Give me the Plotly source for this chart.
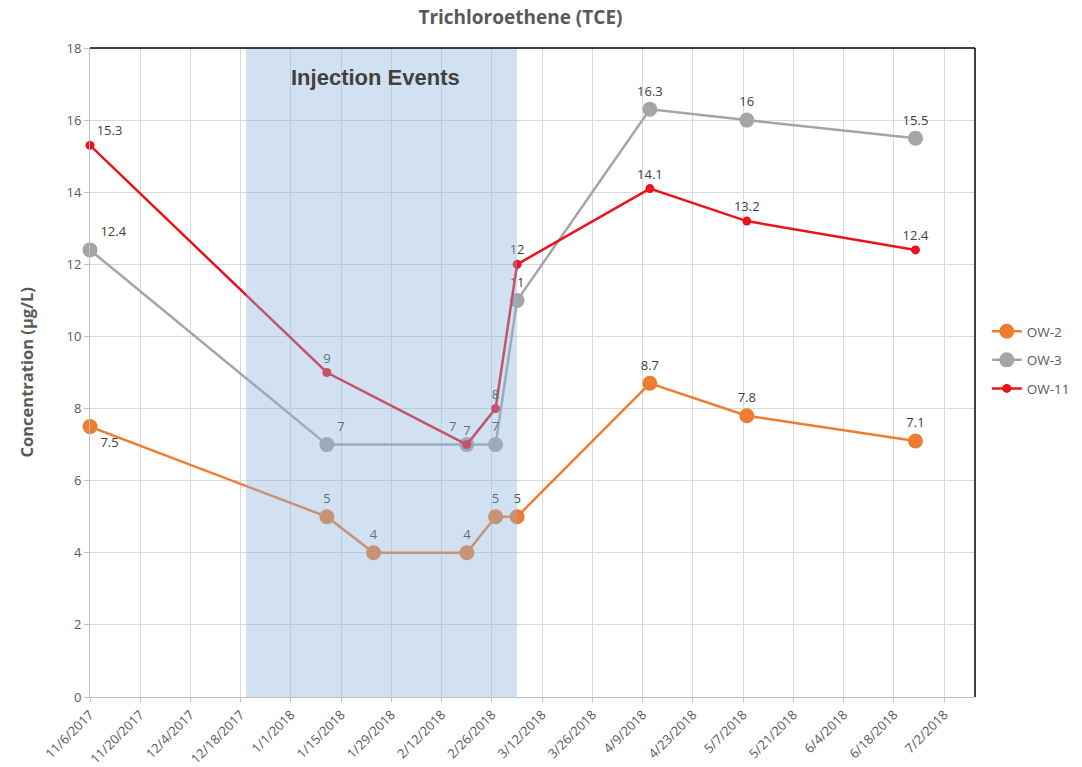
import plotly.graph_objects as go

# Sampling dates and TCE concentrations (µg/L) per monitoring well
dates_ow2 = ["2017-11-06", "2018-01-11", "2018-01-24", "2018-02-19", "2018-02-27",
             "2018-03-05", "2018-04-11", "2018-05-08", "2018-06-24"]
ow2 = [7.5, 5, 4, 4, 5, 5, 8.7, 7.8, 7.1]

dates_ow3 = ["2017-11-06", "2018-01-11", "2018-02-19", "2018-02-27", "2018-03-05",
             "2018-04-11", "2018-05-08", "2018-06-24"]
ow3 = [12.4, 7, 7, 7, 11, 16.3, 16, 15.5]

dates_ow11 = ["2017-11-06", "2018-01-11", "2018-02-19", "2018-02-27", "2018-03-05",
              "2018-04-11", "2018-05-08", "2018-06-24"]
ow11 = [15.3, 9, 7, 8, 12, 14.1, 13.2, 12.4]

# Label placement for each point
pos_ow2 = ["bottom right"] + ["top center"] * 8
pos_ow3 = ["top right", "top right", "top left"] + ["top center"] * 5
pos_ow11 = ["top right"] + ["top center"] * 7

injection_start = "2017-12-19 12:00"
injection_end = "2018-03-05"

ORANGE = "#ED7D31"
GRAY = "#A5A5A5"
RED = "#E8131B"
TEXT = "#595959"
LABEL = "#404040"


def fmt(v):
    return f"{v:g}"


fig = go.Figure()

series = [
    ("OW-2", dates_ow2, ow2, pos_ow2, ORANGE, 15),
    ("OW-3", dates_ow3, ow3, pos_ow3, GRAY, 15),
    ("OW-11", dates_ow11, ow11, pos_ow11, RED, 9),
]
for name, xs, ys, pos, color, msize in series:
    fig.add_trace(go.Scatter(
        x=xs, y=ys, name=name, legendgroup=name, mode="lines+markers+text",
        line=dict(color=color, width=2.5),
        marker=dict(color=color, size=msize),
        text=[fmt(v) for v in ys], textposition=pos,
        textfont=dict(family="Open Sans", size=13, color=LABEL),
        cliponaxis=False,
    ))

# Injection period band, laid translucently over the data
fig.add_shape(type="rect", xref="x", yref="y",
              x0=injection_start, x1=injection_end, y0=0, y1=18,
              fillcolor="rgba(140,180,222,0.40)", line=dict(width=0),
              layer="above")
# Dark top and right plot borders
fig.add_shape(type="line", xref="paper", yref="paper", x0=0, x1=1, y0=1, y1=1,
              line=dict(color="#000000", width=1.5))
fig.add_shape(type="line", xref="paper", yref="paper", x0=1, x1=1, y0=0, y1=1,
              line=dict(color="#000000", width=1.5))

fig.add_annotation(x="2018-01-24 10:00", y=17.17, xref="x", yref="y",
                   text="<b>Injection Events</b>", showarrow=False,
                   font=dict(family="Liberation Sans, Arial", size=22, color=LABEL))
fig.add_annotation(x=-0.0712, y=0.5, xref="paper", yref="paper",
                   text="<b>Concentration (µg/L)</b>", showarrow=False,
                   textangle=-90, xanchor="center", yanchor="middle",
                   font=dict(family="Open Sans", size=16.5, color=TEXT))

fig.update_layout(
    width=1082, height=767,
    margin=dict(l=90, r=107, t=48, b=70, autoexpand=False),
    paper_bgcolor="white", plot_bgcolor="white",
    title=dict(text="<b>Trichloroethene (TCE)</b>", x=0.481, xanchor="center",
               y=0.978, yanchor="middle",
               font=dict(family="Open Sans", size=19, color=TEXT)),
    font=dict(family="Open Sans", color=TEXT),
    legend=dict(xref="container", yref="container", x=0.912, y=0.588,
                xanchor="left", yanchor="top", tracegroupgap=8,
                font=dict(family="Open Sans", size=13.5, color=TEXT),
                itemwidth=30, bgcolor="rgba(0,0,0,0)"),
    showlegend=True,
)

fig.update_xaxes(
    type="date", range=["2017-11-06", "2018-07-10 14:00"], automargin=False,
    tick0="2017-11-06", dtick=14 * 86400000, tickformat="%-m/%-d/%Y",
    tickangle=-45, tickfont=dict(size=13, color=TEXT),
    showgrid=True, gridcolor="#D9D9D9", gridwidth=1,
    showline=True, linecolor="#BFBFBF", linewidth=1,
    ticks="outside", ticklen=4, tickcolor="#BFBFBF", zeroline=False,
)
fig.update_yaxes(
    range=[0, 18], dtick=2, automargin=False, tickfont=dict(size=13, color=TEXT),
    showgrid=True, gridcolor="#D9D9D9", gridwidth=1,
    showline=True, linecolor="#BFBFBF", linewidth=1,
    ticks="outside", ticklen=5, tickcolor="#BFBFBF", zeroline=False,
)

fig.write_html("out.html")
